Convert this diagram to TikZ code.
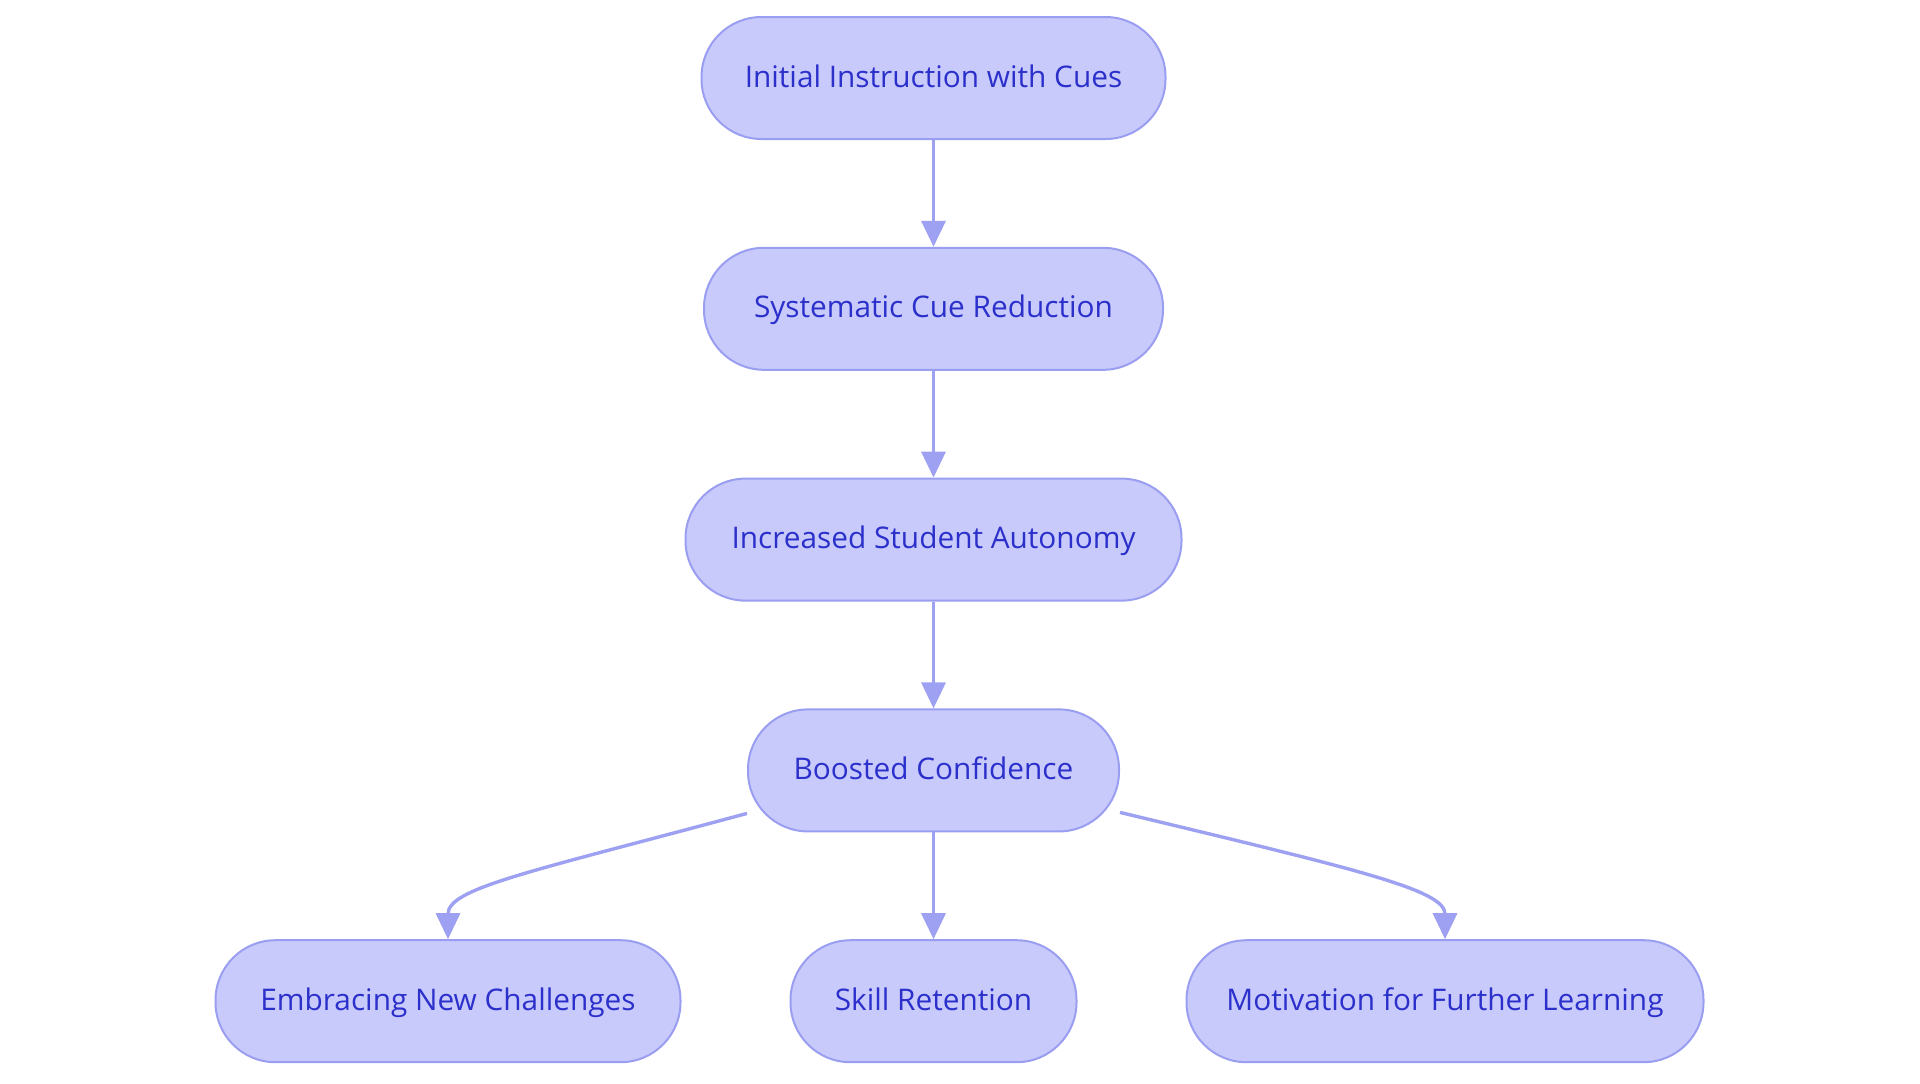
\documentclass[tikz,border=0pt]{standalone}
\usepackage{fontspec}
\setmainfont{Open Sans}
\usetikzlibrary{arrows.meta,calc}
\definecolor{boxfill}{HTML}{C9CAFC}
\definecolor{boxdraw}{HTML}{9A9EF0}
\definecolor{boxtext}{HTML}{2B30CB}
\definecolor{linkcol}{HTML}{9EA1F2}
\begin{document}
\begin{tikzpicture}[x=0.5pt,y=-0.5pt,
		stage/.style={draw=boxdraw,line width=1pt,fill=boxfill,text=boxtext,rounded corners=30pt,minimum height=61pt,inner sep=0pt,text height=11pt,text depth=2pt,font=\fontsize{14.9}{17}\selectfont},
		link/.style={draw=linkcol,line width=1.7pt,-{Triangle[length=13pt,width=12pt]}}]
				\useasboundingbox (0,0) rectangle (1920,1083);
				\node[stage,minimum width=232pt] (cues) at (933.5,78) {Initial Instruction with Cues};
				\node[stage,minimum width=229.5pt] (reduce) at (933.5,308.8) {Systematic Cue Reduction};
				\node[stage,minimum width=248pt] (autonomy) at (933.5,539.6) {Increased Student Autonomy};
				\node[stage,minimum width=185.5pt] (confidence) at (933.5,770.4) {Boosted Confidence};
				\node[stage,minimum width=232.5pt] (challenges) at (448,1001.2) {Embracing New Challenges};
				\node[stage,minimum width=143pt] (retention) at (933.5,1001.2) {Skill Retention};
				\node[stage,minimum width=258.5pt] (motivation) at (1445,1001.2) {Motivation for Further Learning};
				\draw[link] (cues) -- (reduce);
				\draw[link] (reduce) -- (autonomy);
				\draw[link] (autonomy) -- (confidence);
				\draw[link] (confidence) -- (retention);
				\draw[link] ($(confidence.west)+(0,43)$) .. controls (530,872) and (448,888) .. (challenges.north);
				\draw[link] ($(confidence.east)+(0,42)$) .. controls (1360,870) and (1445,890) .. (motivation.north);
			\end{tikzpicture}
\end{document}
